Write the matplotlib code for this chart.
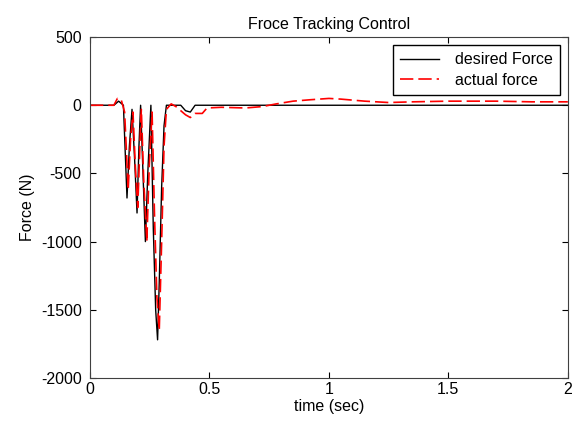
import numpy as np
import matplotlib.pyplot as plt

# desired force (black)
t_des = [0, 0.10, 0.12, 0.14, 0.155, 0.165, 0.176, 0.187, 0.197, 0.205, 0.212,
         0.222, 0.232, 0.242, 0.255, 0.265, 0.275, 0.283, 0.29, 0.30, 0.31, 0.32,
         0.38, 0.40, 0.42, 0.44, 2.0]
f_des = [0, 0, 30, 0, -680, -300, -30, -400, -790, -300, 0,
         -500, -1000, -500, 0, -900, -1500, -1720, -1300, -600, -150, 0,
         0, -40, -50, 0, 0]

# actual force (red dashed)
t_act = [0, 0.10, 0.115, 0.13, 0.145, 0.16, 0.17, 0.18, 0.19, 0.20, 0.21, 0.215,
         0.225, 0.238, 0.248, 0.26, 0.27, 0.28, 0.29, 0.30, 0.31, 0.32, 0.34, 0.36,
         0.40, 0.42, 0.44, 0.47, 0.49, 0.55, 0.65, 0.72, 0.78, 0.85, 0.92, 1.0,
         1.05, 1.15, 1.25, 1.35, 1.5, 1.7, 1.85, 2.0]
f_act = [0, 0, 50, 45, -50, -620, -250, -50, -450, -750, -250, -30,
         -550, -1000, -450, -50, -800, -1400, -1650, -1000, -300, -30, 10, -10,
         -70, -90, -60, -60, -20, -15, -20, -10, 10, 30, 40, 50,
         45, 30, 20, 25, 30, 30, 25, 25]

plt.rcParams['font.family'] = ['Liberation Sans', 'DejaVu Sans']
plt.rcParams['axes.unicode_minus'] = False
fs = 11.5
fig = plt.figure(figsize=(5.73, 4.26), dpi=100)
ax = fig.add_axes([0.157, 0.1127, 0.834, 0.8003])

ax.plot(t_des, f_des, color='black', lw=1.0, label='desired Force')
ax.plot(t_act, f_act, color='red', lw=1.2, dashes=(8, 3), label='actual force')

ax.set_xlim(0, 2)
ax.set_ylim(-2000, 500)
ax.set_xticks([0, 0.5, 1, 1.5, 2])
ax.set_xticklabels(['0', '0.5', '1', '1.5', '2'])
ax.set_yticks([500, 0, -500, -1000, -1500, -2000])
ax.tick_params(direction='in', top=True, right=True, labelsize=fs, length=4)
ax.tick_params(axis='y', pad=6)
ax.tick_params(axis='x', pad=3)
for s in ax.spines.values():
    s.set_color('#404040')

ax.set_title('Froce Tracking Control', fontsize=fs, pad=6)
ax.set_xlabel('time (sec)', fontsize=fs, labelpad=1)
ax.set_ylabel('Force (N)', fontsize=fs, labelpad=4)

leg = ax.legend(loc='upper right', fontsize=fs, fancybox=False, framealpha=1,
                edgecolor='black', handlelength=2.4, handletextpad=1.0,
                borderaxespad=0.5, borderpad=0.45, labelspacing=0.35)
leg.get_frame().set_linewidth(1.0)

fig.savefig('out.png', dpi=100)
